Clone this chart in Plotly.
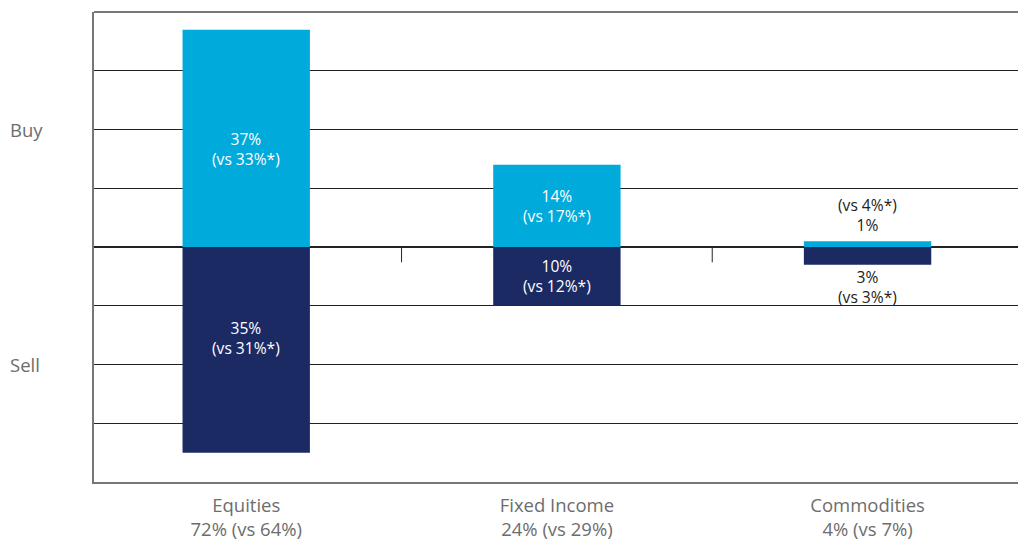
import plotly.graph_objects as go

categories = ["Equities", "Fixed Income", "Commodities"]
cat_sub = ["72% (vs 64%)", "24% (vs 29%)", "4% (vs 7%)"]
buy = [37, 14, 1]
buy_prev = [33, 17, 4]
sell = [35, 10, 3]
sell_prev = [31, 12, 3]

LIGHT = "#00AADB"
DARK = "#1C2A64"
GRAY = "#6d6d6d"
FONT = "Open Sans"
LBL = 15.6

x = list(range(len(categories)))
fig = go.Figure()
fig.add_trace(go.Bar(x=x, y=buy, marker=dict(color=LIGHT, line=dict(width=0)), width=0.41, hoverinfo="skip"))
fig.add_trace(go.Bar(x=x, y=[-v for v in sell], marker=dict(color=DARK, line=dict(width=0)), width=0.41, hoverinfo="skip"))

ann = []
for i in x:
    if buy[i] >= 5:
        shift = -11 if buy[i] > 30 else 0
        ann.append(dict(x=i, y=buy[i] / 2, yshift=shift, text=f"{buy[i]}%<br>(vs {buy_prev[i]}%*)", showarrow=False,
                        font=dict(color="white", size=LBL, family=FONT), xref="x", yref="y"))
    else:
        ann.append(dict(x=i, y=buy[i], yshift=3, yanchor="bottom", text=f"(vs {buy_prev[i]}%*)<br>{buy[i]}%", showarrow=False,
                        font=dict(color="#222", size=LBL, family=FONT), xref="x", yref="y"))
    if sell[i] >= 5:
        shift = 12 if sell[i] > 30 else 0
        ann.append(dict(x=i, y=-sell[i] / 2, yshift=shift, text=f"{sell[i]}%<br>(vs {sell_prev[i]}%*)", showarrow=False,
                        font=dict(color="white", size=LBL, family=FONT), xref="x", yref="y"))
    else:
        ann.append(dict(x=i, y=-sell[i], yshift=1, yanchor="top", text=f"{sell[i]}%<br>(vs {sell_prev[i]}%*)", showarrow=False,
                        font=dict(color="#222", size=LBL, family=FONT), xref="x", yref="y"))

ann.append(dict(xref="paper", yref="y", x=0, xshift=-86, xanchor="left", y=20, text="Buy", showarrow=False,
                font=dict(color=GRAY, size=18.5, family=FONT)))
ann.append(dict(xref="paper", yref="y", x=0, xshift=-86, xanchor="left", y=-20, text="Sell", showarrow=False,
                font=dict(color=GRAY, size=18.5, family=FONT)))

shapes = [
    dict(type="line", xref="paper", yref="paper", x0=0, x1=1, y0=1, y1=1, line=dict(color="#777", width=2)),
]
for b in [0.5, 1.5]:
    shapes.append(dict(type="line", xref="x", yref="y", x0=b, x1=b, y0=0, y1=-2.6, line=dict(color="#222", width=1)))

# page body has an 8px margin, so the figure is sized/offset to compensate
fig.update_layout(
    width=1018, height=534,
    margin=dict(l=86, r=0, t=4, b=60),
    barmode="relative",
    showlegend=False,
    plot_bgcolor="white", paper_bgcolor="white",
    annotations=ann, shapes=shapes,
    font=dict(family=FONT),
    xaxis=dict(range=[-0.49, 2.51], tickvals=x,
               ticktext=[f"{c}<br>{s}" for c, s in zip(categories, cat_sub)],
               tickfont=dict(color=GRAY, size=18.5, family=FONT), showgrid=False,
               showline=True, linecolor="#777", linewidth=2, ticks="", ticklabelstandoff=6),
    yaxis=dict(range=[-40, 40], dtick=10, showticklabels=False, gridcolor="#222", gridwidth=1,
               zeroline=True, zerolinecolor="#222", zerolinewidth=1.5,
               showline=True, linecolor="#777", linewidth=2, ticks=""),
)
fig.write_html("out.html")
